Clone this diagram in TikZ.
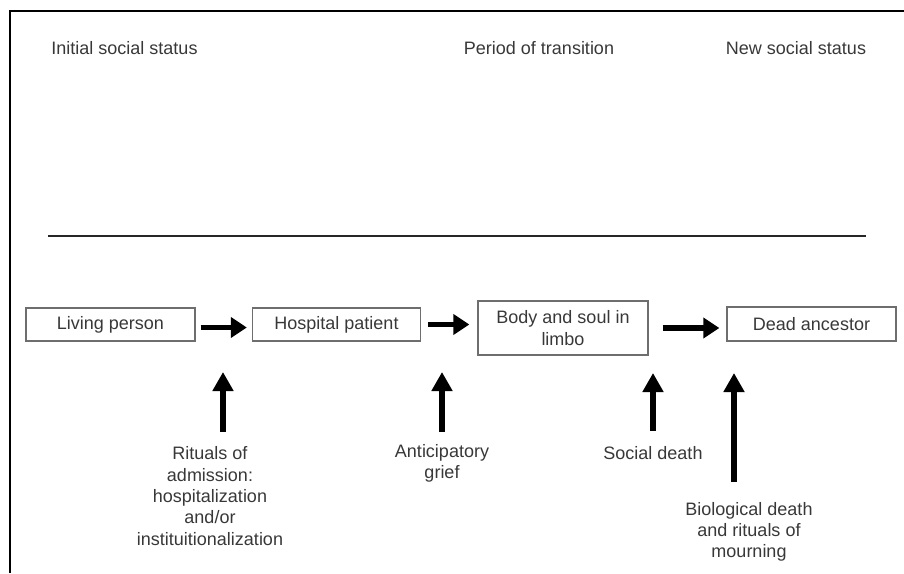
\documentclass[tikz,border=0pt]{standalone}
\usepackage{fontspec}
\setmainfont{Liberation Sans}
\usetikzlibrary{arrows.meta}
\definecolor{ink}{HTML}{383838}
\definecolor{boxline}{HTML}{6E6E6E}
\tikzset{
  lbl/.style={text=ink, font=\fontsize{18}{21.3}\selectfont, inner sep=0pt, align=center},
  stagebox/.style={draw=boxline, line width=1.4pt, text=ink,
    font=\fontsize{18}{21.3}\selectfont, align=center, inner sep=0pt},
  fwd/.style={line width=5.5pt, -{Triangle[length=16pt,width=20pt]}},
  upward/.style={line width=6pt, -{Triangle[length=19pt,width=20pt]}}
}
\begin{document}
\begin{tikzpicture}[x=1pt,y=-1pt]
\useasboundingbox (0,0) rectangle (904,573);
% open frame: top and left edges
\draw[line width=2.5pt] (10,573) -- (10,11) -- (904,11);

% column headings
\node[lbl] (h1) at (124.5,48) {Initial social status};
\node[lbl] (h2) at (539,48) {Period of transition};
\node[lbl] (h3) at (796,48) {New social status};

% divider
\draw[line width=2pt, black!85] (48,236) -- (866,236);

% stages
\node[stagebox, minimum width=169pt, minimum height=33pt] (s1) at (110.5,324.5) {Living person};
\node[stagebox, minimum width=168pt, minimum height=33pt] (s2) at (336.5,324.5) {Hospital patient};
\node[stagebox, minimum width=170pt, minimum height=54pt] (s3) at (563,328) {Body and soul in\\limbo};
\node[stagebox, minimum width=169pt, minimum height=34pt] (s4) at (811.5,324) {Dead ancestor};

% transitions between stages
\draw[fwd, shorten <=5pt, shorten >=5pt] ([yshift=-3pt]s1.east) -- ([yshift=-3pt]s2.west);
\draw[fwd, shorten <=7pt, shorten >=8pt] (s2.east) -- (s2.east -| s3.west);
\draw[fwd, shorten <=14pt, shorten >=7pt] (s3.east) -- (s3.east -| s4.west);

% events
\node[lbl] (e1) at (210,496) {Rituals of\\admission:\\hospitalization\\and/or\\instituitionalization};
\node[lbl] (e2) at (442,463.5) {Anticipatory\\grief};
\node[lbl] (e3) at (653,453) {Social death};
\node[lbl] (e4) at (749,532) {Biological death\\and rituals of\\mourning};

\coordinate (b1) at (223,432); \coordinate (t1) at (223,372);
\coordinate (b2) at (442,432); \coordinate (t2) at (442,372);
\coordinate (b3) at (653,431); \coordinate (t3) at (653,373);
\coordinate (b4) at (734,482); \coordinate (t4) at (734,373);
\draw[upward] (b1) -- (t1);
\draw[upward] (b2) -- (t2);
\draw[upward] (b3) -- (t3);
\draw[upward] (b4) -- (t4);
\end{tikzpicture}
\end{document}
